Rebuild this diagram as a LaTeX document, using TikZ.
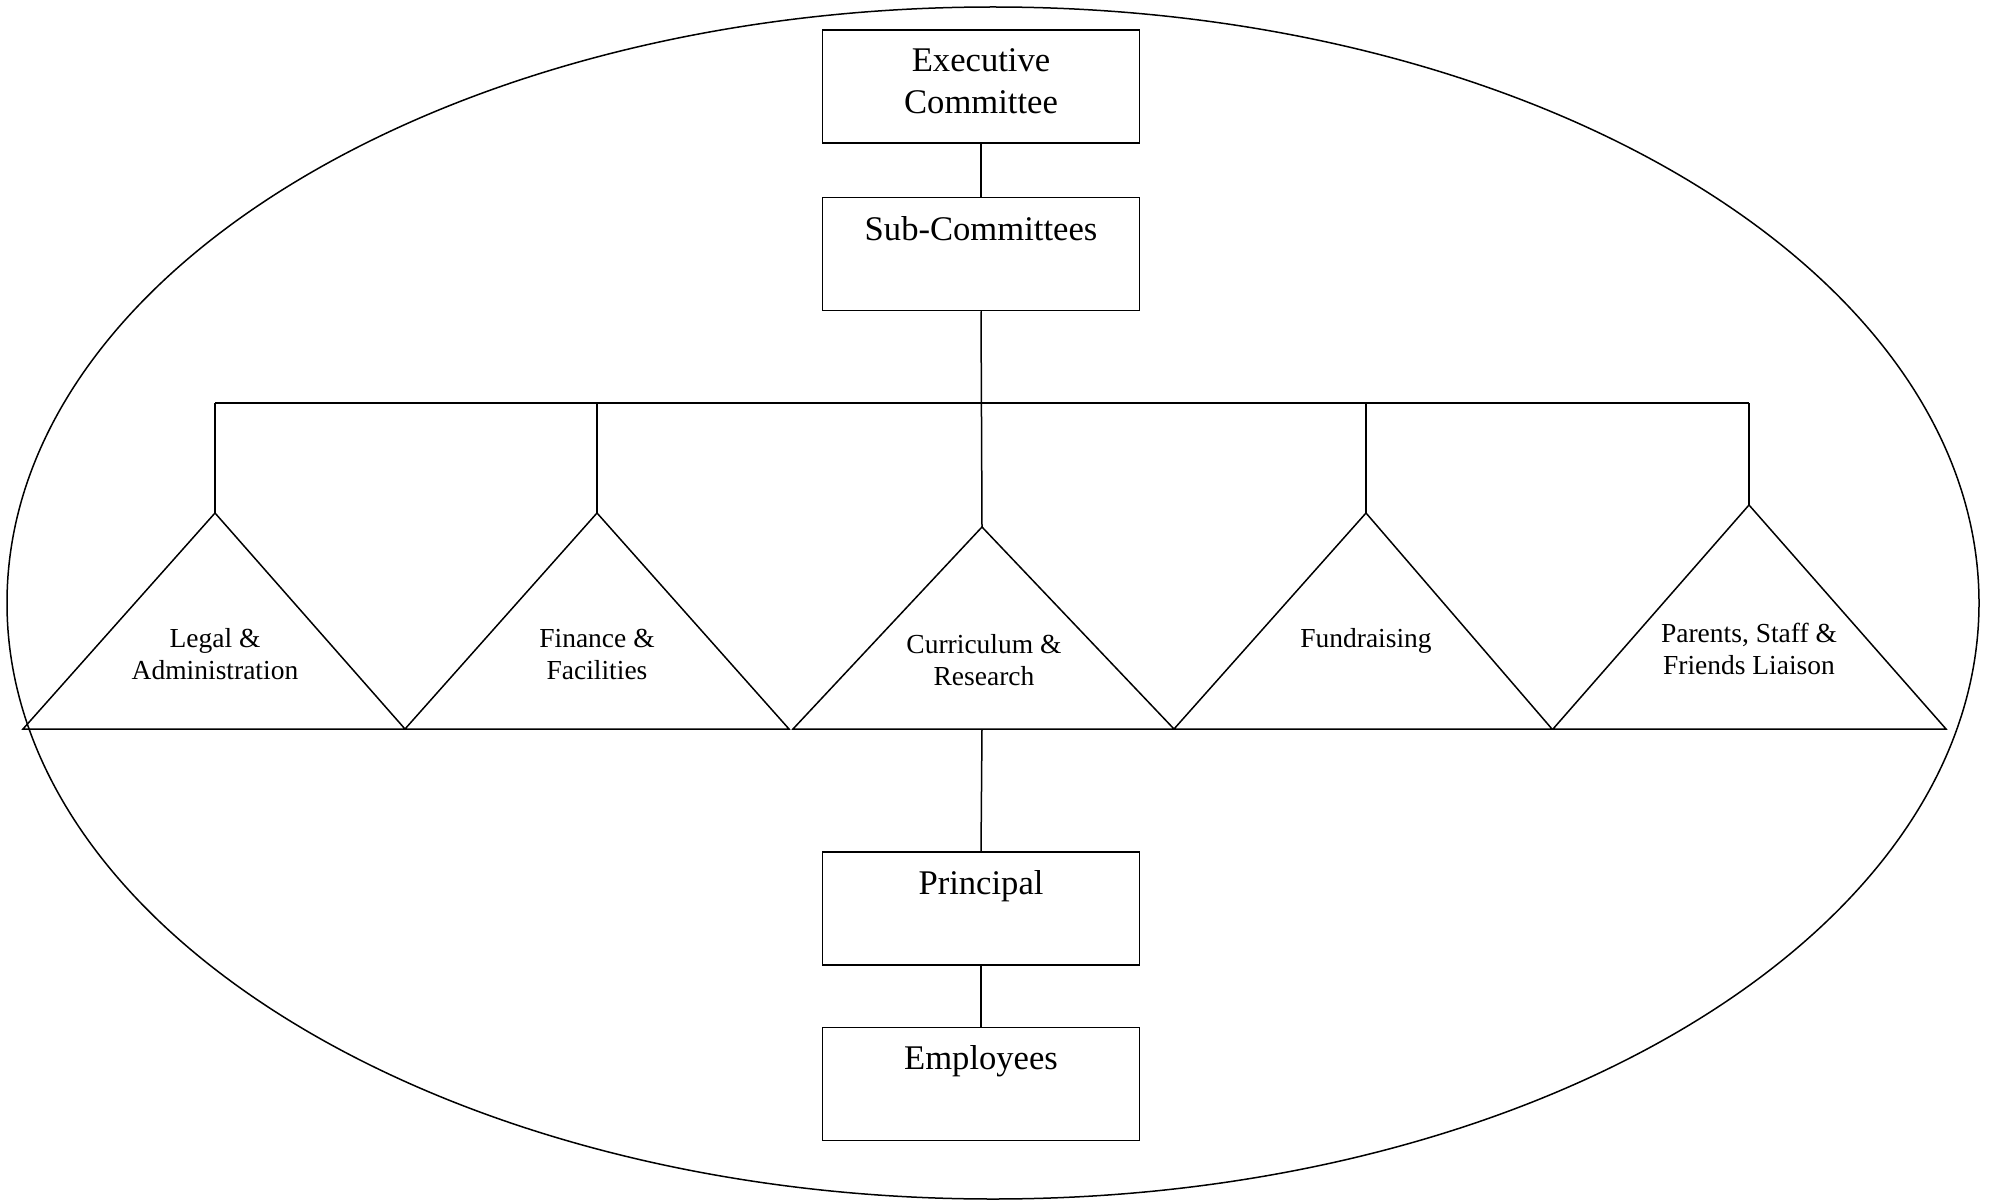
\documentclass[tikz,border=0pt]{standalone}
\usepackage{fontspec}
\setmainfont{Liberation Serif}
\begin{document}
\begin{tikzpicture}[x=1pt,y=-1pt,line width=1.5pt,
  box/.style={draw,minimum width=317pt,minimum height=113pt,inner sep=0pt},
  boxtext/.style={align=center,inner sep=0pt,font=\fontsize{34.6}{42}\selectfont},
  tritext/.style={align=center,inner sep=0pt,font=\fontsize{27.5}{32}\selectfont},
  tri/.style={draw,line join=miter}]
\useasboundingbox (0,0) rectangle (1992,1201);
% outer ellipse
\draw (993,603) ellipse [x radius=986, y radius=596];
% boxes
\node[box] (exec) at (981,86.5) {};
\node[boxtext] (exect) at (981,81) {Executive\\Committee};
\node[box] (sub) at (981,254) {};
\node[boxtext] (subt) at (981,229) {Sub-Committees};
\node[box] (prin) at (981,908.5) {};
\node[boxtext] (print) at (981,886.5) {Principal};
\node[box] (emp) at (981,1084) {};
\node[boxtext] (empt) at (981,1061.5) {Employees};
% triangle apexes and bases
\coordinate (a1) at (215,513);
\coordinate (a2) at (597,513);
\coordinate (a3) at (982,527);
\coordinate (a4) at (1366,513);
\coordinate (a5) at (1749,505);
\draw[tri] (23,729) -- (a1) -- (405,729) -- cycle;
\draw[tri] (405,729) -- (a2) -- (789,729) -- cycle;
\draw[tri] (793,729) -- (a3) -- (1174,729) -- cycle;
\draw[tri] (1174,729) -- (a4) -- (1552,729) -- cycle;
\draw[tri] (1553,729) -- (a5) -- (1946,729) -- cycle;
\coordinate (base3) at (982,729);
% bus
\coordinate (b1) at (215,403);
\coordinate (b2) at (597,403);
\coordinate (b4) at (1366,403);
\coordinate (b5) at (1749,403);
\draw (b1) -- (b5);
\draw (b1) -- (a1);
\draw (b2) -- (a2);
\draw (b4) -- (a4);
\draw (b5) -- (a5);
% connectors
\draw (exec.south) -- (sub.north);
\draw (sub.south) -- (a3);
\draw (base3) -- (prin.north);
\draw (prin.south) -- (emp.north);
% triangle labels
\node[tritext] (t1) at (215,654) {Legal \&\\Administration};
\node[tritext] (t2) at (597,654) {Finance \&\\Facilities};
\node[tritext] (t3) at (984,660) {Curriculum \&\\Research};
\node[tritext] (t4) at (1366,640.5) {Fundraising};
\node[tritext] (t5) at (1749,649) {Parents, Staff \&\\Friends Liaison};
\end{tikzpicture}
\end{document}
